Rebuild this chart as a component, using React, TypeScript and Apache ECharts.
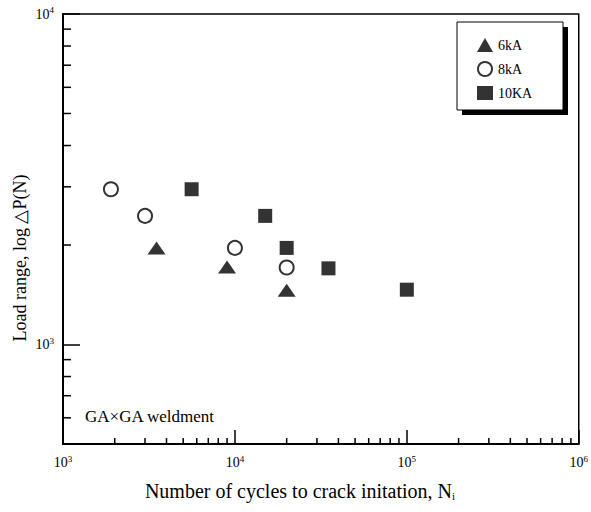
import React, { useEffect, useRef } from "react";
import * as echarts from "echarts";

// Data (cycles to crack initiation, load range N)
const series6kA: number[][] = [
  [3500, 1960],
  [9000, 1715],
  [20000, 1460],
];
const series8kA: number[][] = [
  [1900, 2950],
  [3000, 2450],
  [10000, 1960],
  [20000, 1710],
];
const series10kA: number[][] = [
  [5600, 2950],
  [15000, 2450],
  [20000, 1960],
  [35000, 1700],
  [100000, 1465],
];
const legendNames = ["6kA", "8kA", "10KA"];
const xMinorTicks = [
  2000, 3000, 4000, 5000, 6000, 7000, 8000, 9000,
  20000, 30000, 40000, 50000, 60000, 70000, 80000, 90000,
  200000, 300000, 400000, 500000, 600000, 700000, 800000, 900000,
];
const yMinorTicks = [600, 700, 800, 900, 2000, 3000, 4000, 5000, 6000, 7000, 8000, 9000];
const X_MIN = 1000;
const X_MAX = 1000000;
const Y_MIN = 500;
const Y_MAX = 10000;
const X_TITLE = "Number of cycles to crack initation, N";
const X_TITLE_SUB = "i";
const Y_TITLE = "Load range, log \u25B3P(N)";
const NOTE = "GA\u00D7GA weldment";

const FONT = "Liberation Serif";

const powLabel = (v: number) => {
  const l = Math.log10(v);
  const e = Math.round(l);
  if (Math.abs(l - e) > 1e-6) return "";
  return `{a|10}{s|${e}}`;
};

const labelRich = {
  a: { fontSize: 14, fontFamily: FONT, color: "#000", lineHeight: 17 },
  s: { fontSize: 9, fontFamily: FONT, color: "#000", verticalAlign: "top" as const },
};

export default function App() {
  const ref = useRef<HTMLDivElement>(null);
  useEffect(() => {
    if (!ref.current) return;
    const chart = echarts.init(ref.current, undefined, { renderer: "svg" });
    const tickRender = (len: number, dir: "x" | "y") => (params: any, api: any) => {
      const p = api.coord([api.value(0), api.value(1)]);
      const shape =
        dir === "x"
          ? { x1: p[0], y1: p[1], x2: p[0], y2: p[1] - len }
          : { x1: p[0], y1: p[1], x2: p[0] + len, y2: p[1] };
      return { type: "line", shape, style: { stroke: "#000", lineWidth: 1.5 } };
    };
    chart.setOption({
      animation: false,
      backgroundColor: "#fff",
      grid: {
        left: 63,
        right: 8,
        top: 14,
        bottom: 68,
        show: true,
        borderColor: "#000",
        borderWidth: 1.5,
        backgroundColor: "transparent",
      },
      xAxis: {
        type: "log",
        logBase: 10,
        min: X_MIN,
        max: X_MAX,
        axisLine: { show: true, lineStyle: { color: "#000", width: 2 } },
        axisTick: { show: true, inside: true, length: 14, lineStyle: { color: "#000", width: 1.5 } },
        minorTick: { show: false },
        splitLine: { show: false },
        axisLabel: { margin: 10, formatter: powLabel, rich: labelRich },
      },
      yAxis: {
        type: "log",
        logBase: 10,
        min: Y_MIN,
        max: Y_MAX,
        axisLine: { show: true, lineStyle: { color: "#000", width: 2 } },
        axisTick: { show: true, inside: true, length: 17, lineStyle: { color: "#000", width: 1.5 } },
        minorTick: { show: false },
        splitLine: { show: false },
        axisLabel: { margin: 9, formatter: powLabel, rich: labelRich },
      },
      legend: {
        data: legendNames,
        orient: "vertical",
        left: 472,
        top: 33,
        itemWidth: 16,
        itemHeight: 14,
        itemGap: 9,
        z: 10,
        textStyle: { fontSize: 14, fontFamily: FONT, color: "#000" },
      },
      graphic: [
        {
          type: "rect",
          z: 3,
          shape: { x: 462, y: 27, width: 106, height: 88 },
          style: { fill: "#000" },
        },
        {
          type: "rect",
          z: 3,
          shape: { x: 457, y: 22, width: 106, height: 88 },
          style: { fill: "#fff", stroke: "#000", lineWidth: 1 },
        },
        {
          type: "text",
          z: 3,
          x: 85,
          y: 416,
          style: {
            text: NOTE,
            fontSize: 17,
            fontFamily: FONT,
            fill: "#000",
            verticalAlign: "middle",
          },
        },
        {
          type: "text",
          z: 3,
          x: 300,
          y: 491,
          style: {
            text: `{t|${X_TITLE}}{u|${X_TITLE_SUB}}`,
            align: "center",
            verticalAlign: "middle",
            rich: {
              t: { fontSize: 20, fontFamily: FONT, fill: "#000" },
              u: { fontSize: 11, fontFamily: FONT, fill: "#000", verticalAlign: "bottom" },
            },
          },
        },
        {
          type: "text",
          z: 3,
          x: 20,
          y: 258,
          rotation: Math.PI / 2,
          style: {
            text: Y_TITLE,
            fontSize: 18,
            fontFamily: FONT,
            fill: "#000",
            align: "center",
            verticalAlign: "middle",
          },
        },
      ],
      series: [
        {
          name: "6kA",
          type: "scatter",
          symbol: "triangle",
          symbolSize: [18, 13],
          itemStyle: { color: "#000" },
          data: series6kA,
        },
        {
          name: "8kA",
          type: "scatter",
          symbol: "emptyCircle",
          symbolSize: 14,
          itemStyle: { color: "#000", borderWidth: 1.8 },
          data: series8kA,
        },
        {
          name: "10KA",
          type: "scatter",
          symbol: "rect",
          symbolSize: 14,
          itemStyle: { color: "#000" },
          data: series10kA,
        },
        {
          type: "custom",
          silent: true,
          clip: false,
          renderItem: tickRender(6, "x"),
          data: xMinorTicks.map((v) => [v, Y_MIN]),
        },
        {
          type: "custom",
          silent: true,
          clip: false,
          renderItem: tickRender(8, "y"),
          data: yMinorTicks.map((v) => [X_MIN, v]),
        },
      ],
    });
    return () => chart.dispose();
  }, []);
  return (
    <div
      ref={ref}
      style={{ position: "fixed", left: 0, top: 0, width: 591, height: 512, background: "#fff" }}
    />
  );
}
